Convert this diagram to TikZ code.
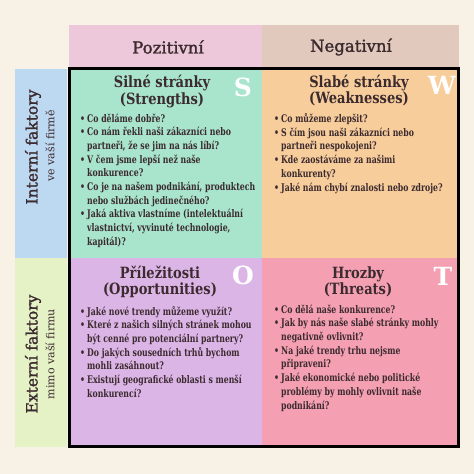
\documentclass[tikz,border=0pt]{standalone}
\usepackage{fontspec}
\setmainfont{DejaVu Serif}
\newfontfamily\narrowfont[FakeStretch=0.74]{DejaVu Serif}
\newfontfamily\titlefont[FakeStretch=0.84]{DejaVu Serif}
\newfontfamily\midfont[FakeBold=1.6]{DejaVu Serif}

\definecolor{bgcream}{HTML}{F8F1E6}
\definecolor{pozcol}{HTML}{EDC8DA}
\definecolor{negcol}{HTML}{E2C9BE}
\definecolor{intcol}{HTML}{BDD8F1}
\definecolor{extcol}{HTML}{E5F2C6}
\definecolor{scol}{HTML}{A8E5CC}
\definecolor{wcol}{HTML}{F7CD9C}
\definecolor{ocol}{HTML}{DCB5E7}
\definecolor{tcol}{HTML}{F4A0B2}
\definecolor{ink}{HTML}{3B2A2E}

\newcommand{\bul}{\makebox[7pt][l]{\textbullet}}
\newcommand{\ind}{\hspace*{7pt}}

\tikzset{
  head/.style={text=ink, font=\midfont\fontsize{16.5}{18}\selectfont, inner sep=0pt},
  side/.style={text=ink, rotate=90, font=\midfont\fontsize{15.5}{18}\selectfont, inner sep=0pt},
  sidesub/.style={text=ink, rotate=90, font=\fontsize{11}{13}\selectfont, inner sep=0pt},
  qtitle/.style={text=ink, align=center, inner sep=0pt,
    font=\titlefont\bfseries\fontsize{15.5}{16.5}\selectfont},
  qlist/.style={text=ink, align=left, anchor=north west, inner sep=0pt,
    font=\narrowfont\bfseries\fontsize{10.5}{13.7}\selectfont,
    execute at begin node=\strut},
  qletter/.style={text=white, inner sep=0pt, font=\bfseries\fontsize{25}{25}\selectfont}
}

\begin{document}
\begin{tikzpicture}[x=1pt,y=-1pt]
  \fill[bgcream] (0,0) rectangle (474,474);
  \useasboundingbox (0,0) rectangle (474,474);

  % header row and side column
  \fill[pozcol] (69,25) rectangle (262,68);
  \fill[negcol] (262,25) rectangle (459,68);
  \fill[intcol] (15,69) rectangle (67,258);
  \fill[extcol] (15,258) rectangle (67,447);

  % quadrants
  \fill[scol] (69,69) rectangle (262,258);
  \fill[wcol] (262,69) rectangle (459,258);
  \fill[ocol] (69,258) rectangle (262,447);
  \fill[tcol] (262,258) rectangle (459,447);
  \draw[line width=3pt] (69.5,68.5) rectangle (458.5,446.5);

  \node[head] (poz) at (168,47) {Pozitivní};
  \node[head] (neg) at (351,47) {Negativní};

  \node[side] (int) at (33,147) {Interní faktory};
  \node[sidesub] (intsub) at (50,146) {ve vaší firmě};
  \node[side] (ext) at (33,354) {Externí faktory};
  \node[sidesub] (extsub) at (50,354) {mimo vaší firmu};

  % S
  \node[qtitle] (sT) at (162,91.5) {Silné stránky\\(Strengths)};
  \node[qletter] (sL) at (243,87) {S};
  \node[qlist] (sI) at (80,113.4) {\bul Co děláme dobře?\\
    \bul Co nám řekli naši zákazníci nebo\\
    \ind partneři, že se jim na nás líbí?\\
    \bul V čem jsme lepší než naše\\
    \ind konkurence?\\
    \bul Co je na našem podnikání, produktech\\
    \ind nebo službách jedinečného?\\
    \bul Jaká aktiva vlastníme (intelektuální\\
    \ind vlastnictví, vyvinuté technologie,\\
    \ind kapitál)?};

  % W
  \node[qtitle] (wT) at (359,90.5) {Slabé stránky\\(Weaknesses)};
  \node[qletter] (wL) at (442,85) {W};
  \node[qlist] (wI) at (274,113.4) {\bul Co můžeme zlepšit?\\
    \bul S čím jsou naši zákazníci nebo\\
    \ind partneři nespokojeni?\\
    \bul Kde zaostáváme za našimi\\
    \ind konkurenty?\\
    \bul Jaké nám chybí znalosti nebo zdroje?};

  % O
  \node[qtitle] (oT) at (160,282) {Příležitosti\\(Opportunities)};
  \node[qletter] (oL) at (243,275) {O};
  \node[qlist] (oI) at (80,306) {\bul Jaké nové trendy můžeme využít?\\
    \bul Které z našich silných stránek mohou\\
    \ind být cenné pro potenciální partnery?\\
    \bul Do jakých sousedních trhů bychom\\
    \ind mohli zasáhnout?\\
    \bul Existují geografické oblasti s menší\\
    \ind konkurencí?};

  % T
  \node[qtitle] (tT) at (358,282) {Hrozby\\(Threats)};
  \node[qletter] (tL) at (443,276) {T};
  \node[qlist] (tI) at (274,304.5) {\bul Co dělá naše konkurence?\\
    \bul Jak by nás naše slabé stránky mohly\\
    \ind negativně ovlivnit?\\
    \bul Na jaké trendy trhu nejsme\\
    \ind připraveni?\\
    \bul Jaké ekonomické nebo politické\\
    \ind problémy by mohly ovlivnit naše\\
    \ind podnikání?};
\end{tikzpicture}
\end{document}
